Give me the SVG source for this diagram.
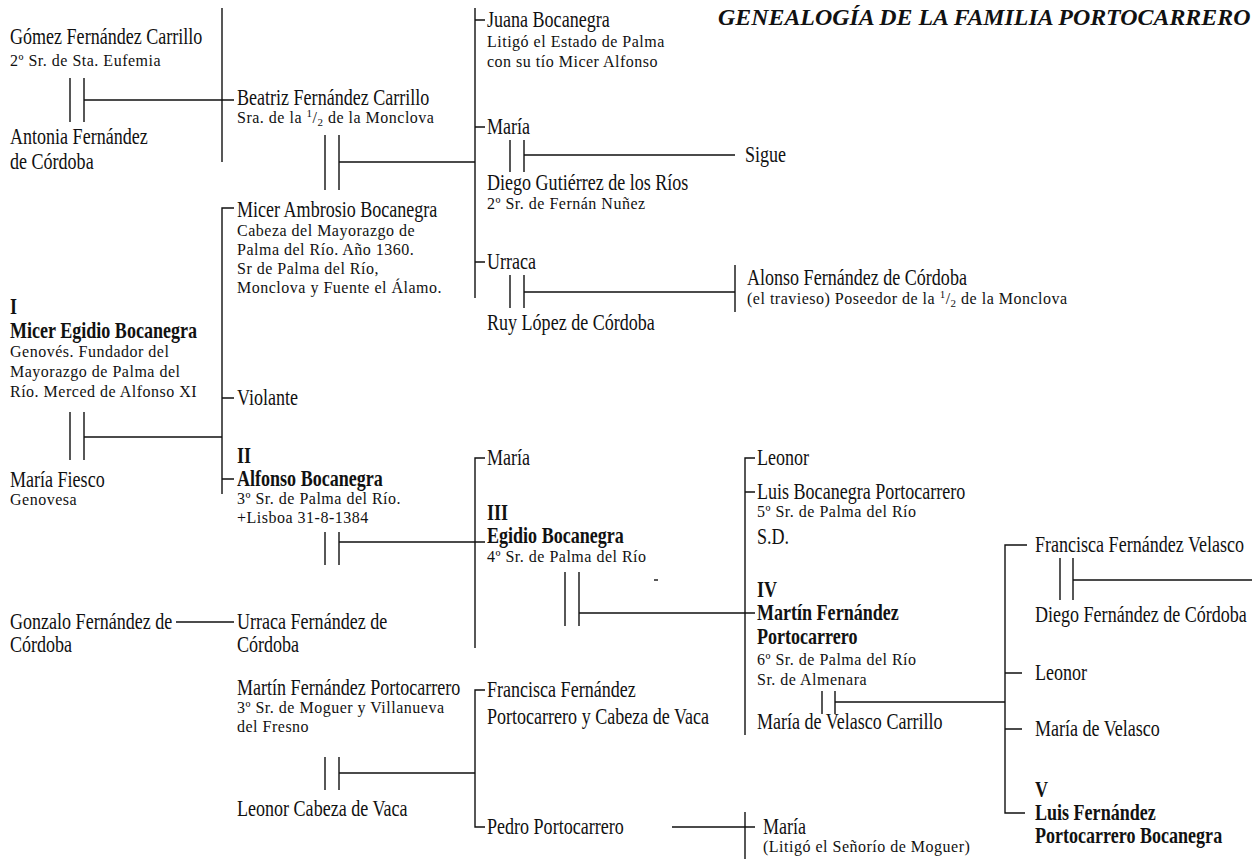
<svg xmlns="http://www.w3.org/2000/svg" width="1252" height="859" viewBox="0 0 1252 859">
<style>
text{font-family:"Liberation Serif","Times New Roman",serif;fill:#111}
.n,.b{font-size:23px;transform-box:fill-box;transform-origin:0 0;transform:scaleX(.785)}
.b{font-weight:bold}
.s{font-size:16px;letter-spacing:.5px}
.t{font-size:23.9px;font-weight:bold;font-style:italic}
.l line,.l path{stroke:#111;stroke-width:1.4;fill:none}
</style>
<rect width="1252" height="859" fill="#fff"/>
<text class="t" x="718" y="25">GENEALOGÍA DE LA FAMILIA PORTOCARRERO</text>
<g class="l" id="connectors">
<path d="M70 78V122M84 78V122M84 100H234"/>
<path d="M70 412V460M84 412V460M84 437H222"/>
<path d="M176 622H234"/>
<path d="M222 8V162"/>
<path d="M234 208H222V494M222 398H234M222 479H234"/>
<path d="M325 135V190M339 135V190M339 162H475"/>
<path d="M325 532V565M339 532V565M339 542H485"/>
<path d="M325 757V790M339 757V790M339 773H475"/>
<path d="M475 8V298M475 20H485M475 127H485M475 262H485"/>
<path d="M485 458H475V648"/>
<path d="M485 690H475V827H485"/>
<path d="M510 140V172M524 140V172M524 155H735"/>
<path d="M510 275V308M524 275V308M524 292H735M735 265V312"/>
<path d="M565 572V626M579 572V626M579 613H755"/>
<path d="M654 580H658"/>
<path d="M672 827H755M745 812V859"/>
<path d="M755 458H745V735M745 492H755"/>
<path d="M822 691V714M835 691V714M835 702H1005"/>
<path d="M1027 545H1005V813H1025M1005 673H1022M1005 729H1022"/>
<path d="M1060 558V600M1073 558V600M1073 580H1252"/>
</g>
<g id="gomez"><text class="n" x="10" y="44">Gómez Fernández Carrillo</text><text class="s" x="10" y="66">2º Sr. de Sta. Eufemia</text></g>
<g id="antonia"><text class="n" x="10" y="144">Antonia Fernández</text><text class="n" x="10" y="169">de Córdoba</text></g>
<g id="micer-egidio"><text class="b" x="10" y="314">I</text><text class="b" x="10" y="338">Micer Egidio Bocanegra</text><text class="s" x="10" y="357">Genovés. Fundador del</text><text class="s" x="10" y="377">Mayorazgo de Palma del</text><text class="s" x="10" y="397">Río. Merced de Alfonso XI</text></g>
<g id="maria-fiesco"><text class="n" x="10" y="487">María Fiesco</text><text class="s" x="10" y="505">Genovesa</text></g>
<g id="gonzalo"><text class="n" x="10" y="629">Gonzalo Fernández de</text><text class="n" x="10" y="652">Córdoba</text></g>
<g id="beatriz"><text class="n" x="237" y="105">Beatriz Fernández Carrillo</text><text class="s" x="237" y="123">Sra. de la <tspan font-size="11" dy="-6">1</tspan><tspan dy="6">/</tspan><tspan font-size="11" dy="3">2</tspan><tspan dy="-3"> de la Monclova</tspan></text></g>
<g id="micer-ambrosio"><text class="n" x="237" y="217">Micer Ambrosio Bocanegra</text><text class="s" x="237" y="236">Cabeza del Mayorazgo de</text><text class="s" x="237" y="255">Palma del Río. Año 1360.</text><text class="s" x="237" y="274">Sr de Palma del Río,</text><text class="s" x="237" y="293">Monclova y Fuente el Álamo.</text></g>
<g id="violante"><text class="n" x="237" y="405">Violante</text></g>
<g id="alfonso"><text class="b" x="237" y="463">II</text><text class="b" x="237" y="486">Alfonso Bocanegra</text><text class="s" x="237" y="504">3º Sr. de Palma del Río.</text><text class="s" x="237" y="523">+Lisboa 31-8-1384</text></g>
<g id="urraca-fc"><text class="n" x="237" y="629">Urraca Fernández de</text><text class="n" x="237" y="652">Córdoba</text></g>
<g id="martin-fp"><text class="n" x="237" y="695">Martín Fernández Portocarrero</text><text class="s" x="237" y="713">3º Sr. de Moguer y Villanueva</text><text class="s" x="237" y="732">del Fresno</text></g>
<g id="leonor-cv"><text class="n" x="237" y="816">Leonor Cabeza de Vaca</text></g>
<g id="juana"><text class="n" x="487" y="27">Juana Bocanegra</text><text class="s" x="487" y="47">Litigó el Estado de Palma</text><text class="s" x="487" y="67">con su tío Micer Alfonso</text></g>
<g id="maria1"><text class="n" x="487" y="134">María</text></g>
<g id="sigue"><text class="n" x="745" y="162">Sigue</text></g>
<g id="diego-g"><text class="n" x="487" y="190">Diego Gutiérrez de los Ríos</text><text class="s" x="487" y="209">2º Sr. de Fernán Nuñez</text></g>
<g id="urraca"><text class="n" x="487" y="269">Urraca</text></g>
<g id="ruy"><text class="n" x="487" y="330">Ruy López de Córdoba</text></g>
<g id="alonso"><text class="n" x="747" y="285">Alonso Fernández de Córdoba</text><text class="s" x="747" y="304">(el travieso) Poseedor de la <tspan font-size="11" dy="-6">1</tspan><tspan dy="6">/</tspan><tspan font-size="11" dy="3">2</tspan><tspan dy="-3"> de la Monclova</tspan></text></g>
<g id="maria2"><text class="n" x="487" y="465">María</text></g>
<g id="egidio"><text class="b" x="487" y="520">III</text><text class="b" x="487" y="543">Egidio Bocanegra</text><text class="s" x="487" y="562">4º Sr. de Palma del Río</text></g>
<g id="francisca-fp"><text class="n" x="487" y="697">Francisca Fernández</text><text class="n" x="487" y="724">Portocarrero y Cabeza de Vaca</text></g>
<g id="pedro"><text class="n" x="487" y="834">Pedro Portocarrero</text></g>
<g id="leonor1"><text class="n" x="757" y="465">Leonor</text></g>
<g id="luis-bp"><text class="n" x="757" y="499">Luis Bocanegra Portocarrero</text><text class="s" x="757" y="517">5º Sr. de Palma del Río</text><text class="n" x="757" y="544">S.D.</text></g>
<g id="martin-iv"><text class="b" x="757" y="597">IV</text><text class="b" x="757" y="620">Martín Fernández</text><text class="b" x="757" y="644">Portocarrero</text><text class="s" x="757" y="665">6º Sr. de Palma del Río</text><text class="s" x="757" y="685">Sr. de Almenara</text></g>
<g id="maria-vc"><text class="n" x="757" y="729">María de Velasco Carrillo</text></g>
<g id="maria3"><text class="n" x="763" y="834">María</text><text class="s" x="763" y="852">(Litigó el Señorío de Moguer)</text></g>
<g id="francisca-fv"><text class="n" x="1035" y="552">Francisca Fernández Velasco</text></g>
<g id="diego-fc"><text class="n" x="1035" y="622">Diego Fernández de Córdoba</text></g>
<g id="leonor2"><text class="n" x="1035" y="680">Leonor</text></g>
<g id="maria-v"><text class="n" x="1035" y="736">María de Velasco</text></g>
<g id="luis-fpb"><text class="b" x="1035" y="797">V</text><text class="b" x="1035" y="820">Luis Fernández</text><text class="b" x="1035" y="843">Portocarrero Bocanegra</text></g>
</svg>
